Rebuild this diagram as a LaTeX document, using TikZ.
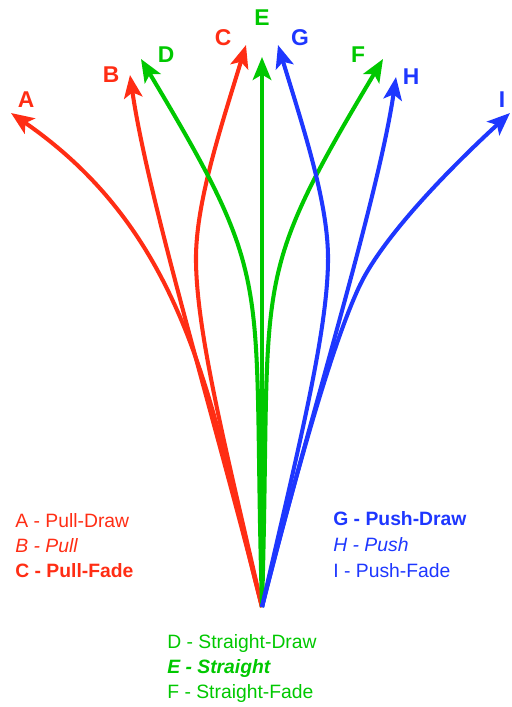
\documentclass[tikz,border=0pt]{standalone}
\usepackage{fontspec}
\setmainfont{Liberation Sans}
\usetikzlibrary{arrows.meta}
\definecolor{pullred}{RGB}{255,45,20}
\definecolor{straightgreen}{RGB}{0,200,0}
\definecolor{pushblue}{RGB}{30,55,255}
\tikzset{
  shot/.style={line width=2.3pt, -{Stealth[length=13pt,width=10.5pt,inset=3pt]}},
  shotlabel/.style={font=\fontsize{13}{15}\selectfont\bfseries, inner sep=0pt},
  legendline/.style={font=\fontsize{11}{13}\selectfont, anchor=west, inner sep=0pt}
}

\begin{document}
\begin{tikzpicture}[x=0.02cm, y=-0.02cm]
\useasboundingbox (0,0) rectangle (511,707);
\coordinate (O) at (262,607);
\coordinate (tipA) at (11,113);
\coordinate (tipB) at (130,75);
\coordinate (tipC) at (246,45);
\coordinate (tipD) at (141,59);
\coordinate (tipE) at (262,57);
\coordinate (tipF) at (383,59);
\coordinate (tipG) at (278,45);
\coordinate (tipH) at (396,77);
\coordinate (tipI) at (510,113);
\coordinate (bendC) at (196,255);
\coordinate (bendG) at (328,255);
\coordinate (bendI) at (360,285);

\draw[shot, pullred] (O) .. controls (213,420) and (195,240) .. (tipA);
\draw[shot, pullred] (O) .. controls (218,430) and (148,200) .. (tipB);
\draw[shot, pullred] (O) .. controls (228,457) and (195,330) .. (bendC)
  .. controls (197,200) and (220,130) .. (tipC);
\draw[shot, straightgreen] (O) .. controls (252,270) and (278,288) .. (tipD);
\draw[shot, straightgreen] (O) -- (tipE);
\draw[shot, straightgreen] (O) .. controls (272,270) and (246,288) .. (tipF);
\draw[shot, pushblue] (O) .. controls (296,457) and (329,330) .. (bendG)
  .. controls (327,200) and (304,130) .. (tipG);
\draw[shot, pushblue] (O) .. controls (306,430) and (378,200) .. (tipH);
\draw[shot, pushblue] (O) .. controls (292,490) and (330,348) .. (bendI)
  .. controls (386,231) and (462,157) .. (tipI);

\node[shotlabel, pullred] (labA) at (26,100) {A};
\node[shotlabel, pullred] (labB) at (111,75) {B};
\node[shotlabel, pullred] (labC) at (223,38) {C};
\node[shotlabel, straightgreen] (labD) at (166,55) {D};
\node[shotlabel, straightgreen] (labE) at (262,18) {E};
\node[shotlabel, straightgreen] (labF) at (358,55) {F};
\node[shotlabel, pushblue] (labG) at (300,38) {G};
\node[shotlabel, pushblue] (labH) at (411,77) {H};
\node[shotlabel, pushblue] (labI) at (502,100) {I};

\node[legendline, pullred] (pullDraw) at (15,521) {A - Pull-Draw};
\node[legendline, pullred] (pull) at (15,546) {\itshape B - Pull};
\node[legendline, pullred] (pullFade) at (15,571) {\bfseries C - Pull-Fade};
\node[legendline, pushblue] (pushDraw) at (333,519) {\bfseries G - Push-Draw};
\node[legendline, pushblue] (push) at (333,545) {\itshape H - Push};
\node[legendline, pushblue] (pushFade) at (333,571) {I - Push-Fade};
\node[legendline, straightgreen] (straightDraw) at (167,643) {D - Straight-Draw};
\node[legendline, straightgreen] (straight) at (167,668) {\bfseries\itshape E - Straight};
\node[legendline, straightgreen] (straightFade) at (167,693) {F - Straight-Fade};
\end{tikzpicture}
\end{document}
